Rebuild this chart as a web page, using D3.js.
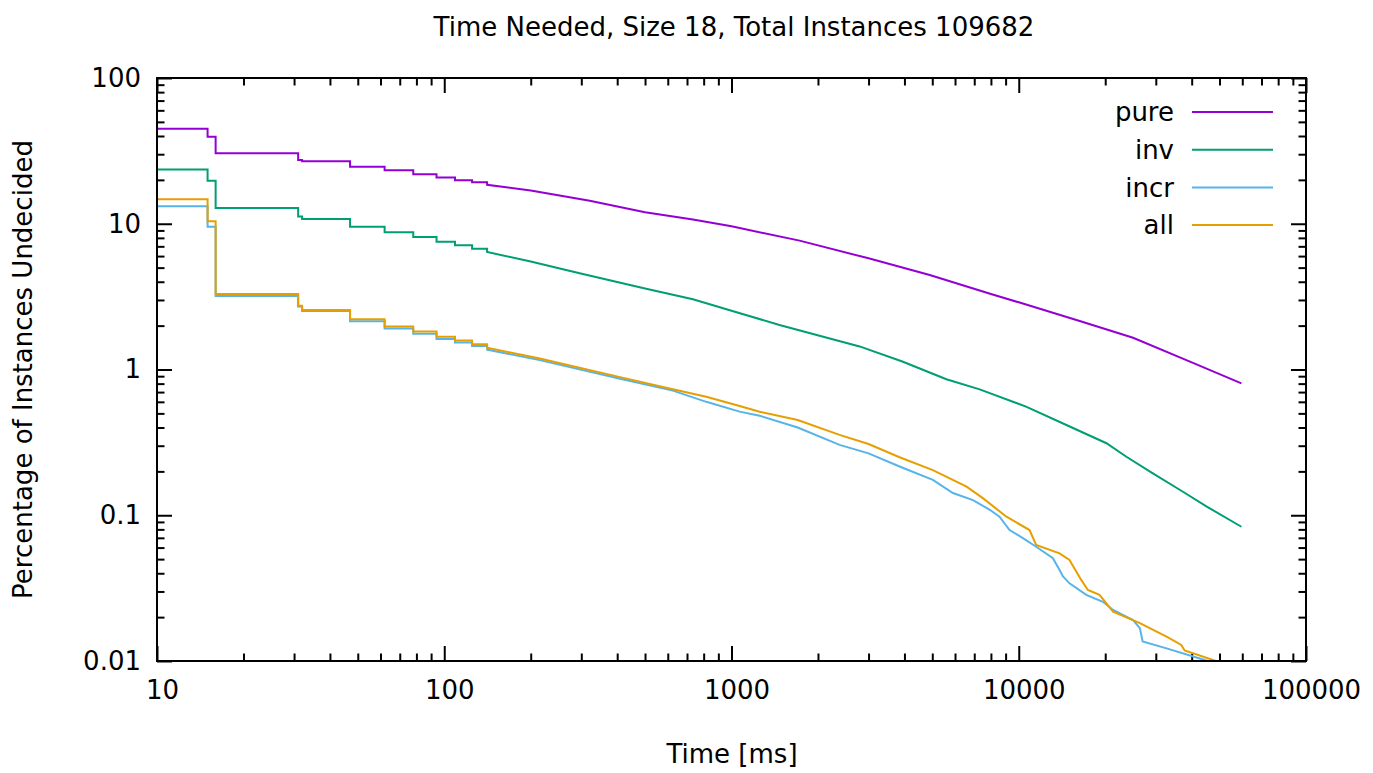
<!DOCTYPE html>
<html>
<head>
<meta charset="utf-8">
<script src="https://cdn.jsdelivr.net/npm/d3@7"></script>
<style>
  body { margin: 0; background: #fff; }
  text { font-family: "DejaVu Sans", Verdana, sans-serif; fill: #000; }
</style>
</head>
<body>
<div class="chart-container"></div>
<script>
// timer steps (ms) of the early part, shared by all series
var stepTimes = [10, 15, 16, 31, 32, 47, 62, 78, 94, 109, 125, 141];

var pureSteps = [44.9, 39.5, 30.4, 27.4, 26.8, 24.6, 23.3, 21.9, 20.8, 19.9, 19.3, 18.5];
var invSteps  = [23.6, 19.7, 12.8, 11.2, 10.8, 9.55, 8.74, 8.11, 7.53, 7.11, 6.75, 6.40];
var incrSteps = [13.2, 9.55, 3.19, 2.71, 2.52, 2.14, 1.91, 1.76, 1.62, 1.53, 1.45, 1.37];
var allSteps  = [14.7, 10.4, 3.30, 2.74, 2.56, 2.21, 1.97, 1.82, 1.68, 1.58, 1.49, 1.41];

// [time ms, percentage] after the stair part
var pureTail = [[141,18.5],[200,16.9],[321,14.4],[500,12.0],[734,10.7],[1000,9.6],[1726,7.66],
  [3000,5.79],[4898,4.45],[8000,3.30],[10000,2.89],[16300,2.15],[25000,1.65],[40400,1.11],[59600,0.804]];
var invTail = [[141,6.40],[200,5.5],[296,4.57],[500,3.6],[734,3.03],[1000,2.53],[1469,2.02],
  [2792,1.44],[3953,1.13],[5598,0.857],[7310,0.731],[10600,0.556],[14650,0.416],[20200,0.312],
  [23700,0.252],[29300,0.194],[37300,0.145],[45000,0.115],[59600,0.0834]];
var incrTail = [[141,1.37],[215,1.16],[413,0.86],[625,0.716],[817,0.60],[1067,0.514],[1253,0.482],
  [1700,0.40],[2378,0.304],[3000,0.266],[3846,0.216],[5023,0.175],[5900,0.142],[6930,0.127],
  [7930,0.109],[8570,0.0977],[9290,0.0792],[10340,0.0696],[11500,0.0608],[13150,0.0507],
  [13870,0.0421],[14260,0.0380],[15020,0.0341],[17180,0.0284],[19630,0.0255],[21300,0.0224],
  [25000,0.0191],[26400,0.0168],[27000,0.0136],[32700,0.0122],[42700,0.0104],[47000,0.0098]];
var allTail = [[141,1.41],[215,1.19],[413,0.883],[625,0.731],[817,0.650],[1067,0.562],[1253,0.513],
  [1700,0.45],[2378,0.356],[3000,0.308],[3846,0.250],[5023,0.204],[6580,0.157],[7500,0.131],
  [9060,0.0977],[10900,0.0792],[11500,0.0625],[13870,0.0548],[15020,0.0493],[16500,0.0360],
  [17400,0.0307],[19100,0.0284],[21300,0.0218],[26400,0.0182],[32700,0.0147],[36800,0.0129],
  [37800,0.0118],[50100,0.0098]];

var seriesNames = ["pure", "inv", "incr", "all"];
var seriesColors = ["#9400d3", "#009e73", "#56b4e9", "#e69f00"];

var xMajor = [10, 100, 1000, 10000, 100000];
var yMajor = [0.01, 0.1, 1, 10, 100];

var W = 1373, H = 773;
var margin = {top: 78, right: 67, bottom: 112, left: 157};

var x = d3.scaleLog().domain([10, 100000]).range([margin.left, W - margin.right]);
var y = d3.scaleLog().domain([0.01, 100]).range([H - margin.bottom, margin.top]);

var svg = d3.select(".chart-container").append("svg")
    .attr("width", W)
    .attr("height", H);

svg.append("defs").append("clipPath")
    .attr("id", "clip")
  .append("rect")
    .attr("x", x.range()[0])
    .attr("y", y.range()[1])
    .attr("width", x.range()[1] - x.range()[0])
    .attr("height", y.range()[0] - y.range()[1]);

var xMinor = x.ticks().filter(function(d) { return xMajor.indexOf(d) < 0; });
var yMinor = y.ticks().filter(function(d) { return yMajor.indexOf(d) < 0; });

function styleAxis(g) {
    g.select(".domain").remove();
    g.selectAll("line").attr("stroke", "#000").attr("stroke-width", 2);
    g.selectAll("text")
        .style("font-family", "'DejaVu Sans', Verdana, sans-serif")
        .style("font-size", "26px")
        .attr("fill", "#000");
}

// bottom
svg.append("g").attr("transform", "translate(0," + y.range()[0] + ")")
    .call(d3.axisBottom(x).tickValues(xMajor).tickSize(-15).tickPadding(20)
        .tickFormat(d3.format("d")))
    .call(styleAxis)
    .selectAll("text").attr("dx", 5);
svg.append("g").attr("transform", "translate(0," + y.range()[0] + ")")
    .call(d3.axisBottom(x).tickValues(xMinor).tickSize(-7.5).tickFormat(""))
    .call(styleAxis);
// top
svg.append("g").attr("transform", "translate(0," + y.range()[1] + ")")
    .call(d3.axisTop(x).tickValues(xMajor).tickSize(-15).tickFormat(""))
    .call(styleAxis);
svg.append("g").attr("transform", "translate(0," + y.range()[1] + ")")
    .call(d3.axisTop(x).tickValues(xMinor).tickSize(-7.5).tickFormat(""))
    .call(styleAxis);
// left
svg.append("g").attr("transform", "translate(" + x.range()[0] + ",0)")
    .call(d3.axisLeft(y).tickValues(yMajor).tickSize(-15).tickPadding(16)
        .tickFormat(function(d) { return String(d); }))
    .call(styleAxis);
svg.append("g").attr("transform", "translate(" + x.range()[0] + ",0)")
    .call(d3.axisLeft(y).tickValues(yMinor).tickSize(-7.5).tickFormat(""))
    .call(styleAxis);
// right
svg.append("g").attr("transform", "translate(" + x.range()[1] + ",0)")
    .call(d3.axisRight(y).tickValues(yMajor).tickSize(-15).tickFormat(""))
    .call(styleAxis);
svg.append("g").attr("transform", "translate(" + x.range()[1] + ",0)")
    .call(d3.axisRight(y).tickValues(yMinor).tickSize(-7.5).tickFormat(""))
    .call(styleAxis);

// data lines
var stepLine = d3.line()
    .x(function(d) { return x(d[0]); })
    .y(function(d) { return y(d[1]); })
    .curve(d3.curveStepAfter);
var tailLine = d3.line()
    .x(function(d) { return x(d[0]); })
    .y(function(d) { return y(d[1]); })
    .curve(d3.curveLinear);

var series = [
    {steps: pureSteps, tail: pureTail},
    {steps: invSteps, tail: invTail},
    {steps: incrSteps, tail: incrTail},
    {steps: allSteps, tail: allTail}
];

var plot = svg.append("g").attr("clip-path", "url(#clip)");
series.forEach(function(s, i) {
    var pts = stepTimes.map(function(t, j) { return [t, s.steps[j]]; });
    plot.append("path")
        .attr("d", stepLine(pts) + tailLine(s.tail).replace(/^M/, "L"))
        .attr("fill", "none")
        .attr("stroke", seriesColors[i])
        .attr("stroke-width", 2)
        .attr("stroke-linejoin", "miter");
});

// frame
svg.append("rect")
    .attr("x", x.range()[0])
    .attr("y", y.range()[1])
    .attr("width", x.range()[1] - x.range()[0])
    .attr("height", y.range()[0] - y.range()[1])
    .attr("fill", "none")
    .attr("stroke", "#000")
    .attr("stroke-width", 2);

// legend
var legend = svg.append("g");
seriesNames.forEach(function(name, i) {
    var ly = 112 + i * 37.7;
    legend.append("text")
        .attr("x", 1174)
        .attr("y", ly)
        .attr("dy", "0.35em")
        .attr("text-anchor", "end")
        .style("font-size", "26px")
        .text(name);
    legend.append("line")
        .attr("x1", 1192).attr("x2", 1273)
        .attr("y1", ly).attr("y2", ly)
        .attr("stroke", seriesColors[i])
        .attr("stroke-width", 2);
});

// titles
svg.append("text")
    .attr("x", 734).attr("y", 36)
    .attr("text-anchor", "middle")
    .style("font-size", "26px")
    .text("Time Needed, Size 18, Total Instances 109682");

svg.append("text")
    .attr("x", 732).attr("y", 763)
    .attr("text-anchor", "middle")
    .style("font-size", "26px")
    .text("Time [ms]");

svg.append("text")
    .attr("transform", "translate(32," + ((y.range()[0] + y.range()[1]) / 2) + ") rotate(-90)")
    .attr("text-anchor", "middle")
    .style("font-size", "26px")
    .text("Percentage of Instances Undecided");
</script>
</body>
</html>
